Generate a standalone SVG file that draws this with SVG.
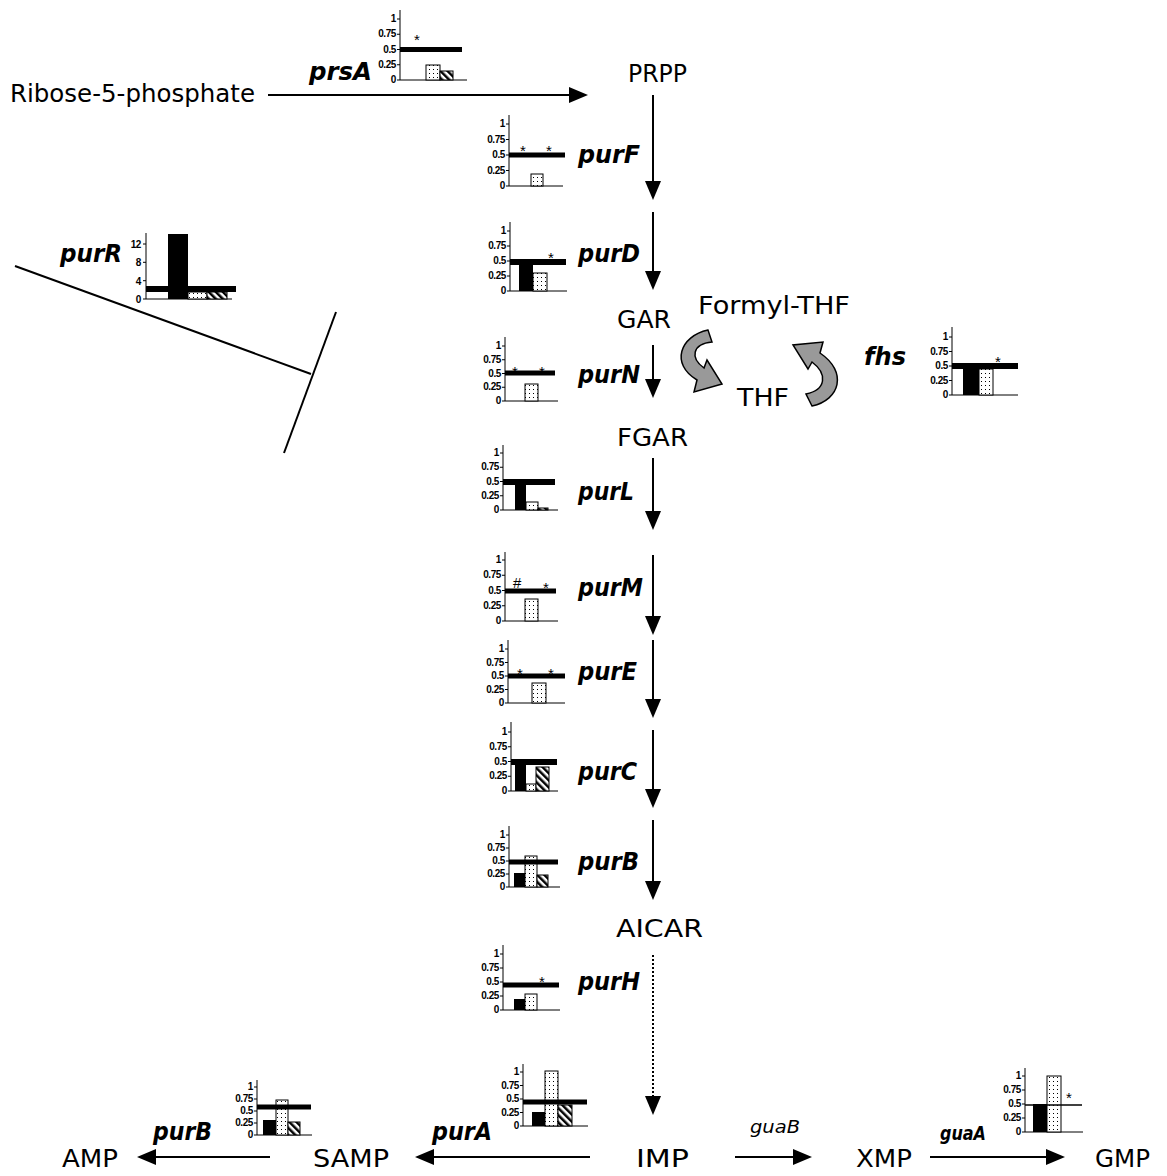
<svg xmlns="http://www.w3.org/2000/svg" width="1167" height="1176" viewBox="0 0 1167 1176">
<defs>
<style>
.lbl{font-family:"DejaVu Sans","Liberation Sans",sans-serif;font-size:25px;fill:#000}
.gene{font-family:"DejaVu Sans","Liberation Sans",sans-serif;font-size:24px;font-weight:bold;font-style:italic;fill:#000}
.tk{font-family:"Liberation Sans",Arial,sans-serif;font-size:10px;font-weight:bold;text-anchor:end;fill:#000;letter-spacing:-0.4px}
.st{font-family:"Liberation Sans",Arial,sans-serif;font-size:15px;text-anchor:middle;fill:#000}
.ax{stroke:#000;stroke-width:1;fill:none}
.bx{stroke:#000;stroke-width:1}
.con{stroke:#000;stroke-width:2;fill:none}
</style>
<pattern id="dots" width="4" height="4" patternUnits="userSpaceOnUse"><rect width="4" height="4" fill="#fff"/><rect x="1" y="1" width="1" height="1" fill="#000"/></pattern>
<pattern id="hatch" width="5" height="5" patternUnits="userSpaceOnUse" patternTransform="rotate(-45)"><rect width="5" height="5" fill="#fff"/><rect width="2.5" height="5" fill="#000"/></pattern>
<marker id="ah" markerWidth="20" markerHeight="16" refX="15" refY="8" orient="auto" markerUnits="userSpaceOnUse"><path d="M0,0 L19,8 L0,16 z" fill="#000"/></marker>
</defs>
<rect width="1167" height="1176" fill="#fff"/>

<g id="connectors">
<line class="con" x1="268" y1="95" x2="584" y2="95" marker-end="url(#ah)"/>
<line class="con" x1="653" y1="95" x2="653" y2="196" marker-end="url(#ah)"/>
<line class="con" x1="653" y1="212" x2="653" y2="286" marker-end="url(#ah)"/>
<line class="con" x1="653" y1="345" x2="653" y2="394" marker-end="url(#ah)"/>
<line class="con" x1="653" y1="458" x2="653" y2="526" marker-end="url(#ah)"/>
<line class="con" x1="653" y1="555" x2="653" y2="631" marker-end="url(#ah)"/>
<line class="con" x1="653" y1="640" x2="653" y2="714" marker-end="url(#ah)"/>
<line class="con" x1="653" y1="730" x2="653" y2="804" marker-end="url(#ah)"/>
<line class="con" x1="653" y1="820" x2="653" y2="896" marker-end="url(#ah)"/>
<line class="con" x1="653" y1="955" x2="653" y2="1111" stroke-dasharray="2,2" marker-end="url(#ah)"/>
<line class="con" x1="270" y1="1157" x2="141" y2="1157" marker-end="url(#ah)"/>
<line class="con" x1="590" y1="1157" x2="419" y2="1157" marker-end="url(#ah)"/>
<line class="con" x1="735" y1="1157" x2="808" y2="1157" marker-end="url(#ah)"/>
<line class="con" x1="930" y1="1157" x2="1061" y2="1157" marker-end="url(#ah)"/>
<line class="con" x1="15" y1="266" x2="311" y2="374"/>
<line class="con" x1="336" y1="312" x2="284" y2="453"/>
<path d="M708,330 C680,336 670,364 697,380 L694,392 L722,384 L707,360 L704,368 C690,358 692,344 712,342 Z" fill="#999" stroke="#000" stroke-width="1.5"/>
<path d="M812,406 C840,400 848,372 820,353 L823,342 L793,345 L808,369 L812,362 C828,374 826,390 806,394 Z" fill="#999" stroke="#000" stroke-width="1.5"/>
</g>

<g id="node-ribose"><text class="lbl" x="10" y="102" textLength="245" lengthAdjust="spacingAndGlyphs">Ribose-5-phosphate</text></g>
<g id="node-PRPP"><text class="lbl" x="628" y="82" textLength="59" lengthAdjust="spacingAndGlyphs">PRPP</text></g>
<g id="node-GAR"><text class="lbl" x="617" y="328" textLength="54" lengthAdjust="spacingAndGlyphs">GAR</text></g>
<g id="node-FormylTHF"><text class="lbl" x="698" y="314" textLength="152" lengthAdjust="spacingAndGlyphs">Formyl-THF</text></g>
<g id="node-THF"><text class="lbl" x="737" y="406" textLength="52" lengthAdjust="spacingAndGlyphs">THF</text></g>
<g id="node-FGAR"><text class="lbl" x="617" y="446" textLength="71" lengthAdjust="spacingAndGlyphs">FGAR</text></g>
<g id="node-AICAR"><text class="lbl" x="616" y="937" textLength="87" lengthAdjust="spacingAndGlyphs">AICAR</text></g>
<g id="node-IMP"><text class="lbl" x="636" y="1167" textLength="53" lengthAdjust="spacingAndGlyphs">IMP</text></g>
<g id="node-AMP"><text class="lbl" x="62" y="1167" textLength="56" lengthAdjust="spacingAndGlyphs">AMP</text></g>
<g id="node-SAMP"><text class="lbl" x="313" y="1167" textLength="76" lengthAdjust="spacingAndGlyphs">SAMP</text></g>
<g id="node-XMP"><text class="lbl" x="856" y="1167" textLength="56" lengthAdjust="spacingAndGlyphs">XMP</text></g>
<g id="node-GMP"><text class="lbl" x="1095" y="1167" textLength="55" lengthAdjust="spacingAndGlyphs">GMP</text></g>
<g id="label-guaB"><text x="750" y="1133" font-family="DejaVu Sans,sans-serif" font-size="18" font-style="italic" textLength="50" lengthAdjust="spacingAndGlyphs">guaB</text></g>

<!-- prsA -->
<g id="gene-prsA">
<text class="gene" x="309" y="80" textLength="63" lengthAdjust="spacingAndGlyphs">prsA</text>
<line class="ax" x1="400" y1="10" x2="400" y2="80"/><line class="ax" x1="400" y1="80" x2="467" y2="80"/>
<path class="ax" d="M397,80H400M397,64.75H400M397,49.5H400M397,34.25H400M397,19H400"/>
<text class="tk" x="396" y="83">0</text><text class="tk" x="396" y="67.75">0.25</text><text class="tk" x="396" y="52.5">0.5</text><text class="tk" x="396" y="37.25">0.75</text><text class="tk" x="396" y="22">1</text>
<rect class="bx" x="426" y="65" width="14" height="15" fill="url(#dots)"/>
<rect class="bx" x="440" y="71" width="13" height="9" fill="url(#hatch)"/>
<rect x="400" y="47" width="62" height="5" fill="#000"/>
<text class="st" x="417" y="45">*</text>
</g>

<!-- purF -->
<g id="gene-purF">
<text class="gene" x="578" y="163" textLength="62" lengthAdjust="spacingAndGlyphs">purF</text>
<line class="ax" x1="509" y1="115" x2="509" y2="186"/><line class="ax" x1="509" y1="186" x2="563" y2="186"/>
<path class="ax" d="M506,186H509M506,170.5H509M506,155H509M506,139.5H509M506,124H509"/>
<text class="tk" x="505" y="189">0</text><text class="tk" x="505" y="173.5">0.25</text><text class="tk" x="505" y="158">0.5</text><text class="tk" x="505" y="142.5">0.75</text><text class="tk" x="505" y="127">1</text>
<rect class="bx" x="531" y="174" width="12" height="12" fill="url(#dots)"/>
<rect x="509" y="152.5" width="56" height="5" fill="#000"/>
<text class="st" x="523" y="156">*</text><text class="st" x="549" y="156">*</text>
</g>

<!-- purD -->
<g id="gene-purD">
<text class="gene" x="578" y="262" textLength="62" lengthAdjust="spacingAndGlyphs">purD</text>
<line class="ax" x1="510" y1="222" x2="510" y2="291"/><line class="ax" x1="510" y1="291" x2="567" y2="291"/>
<path class="ax" d="M507,291H510M507,276H510M507,261H510M507,246H510M507,231H510"/>
<text class="tk" x="506" y="294">0</text><text class="tk" x="506" y="279">0.25</text><text class="tk" x="506" y="264">0.5</text><text class="tk" x="506" y="249">0.75</text><text class="tk" x="506" y="234">1</text>
<rect x="519" y="262" width="14" height="29" fill="#000"/>
<rect class="bx" x="533" y="273" width="14" height="18" fill="url(#dots)"/>
<rect x="510" y="259" width="56" height="6" fill="#000"/>
<text class="st" x="551" y="263">*</text>
</g>

<!-- purR -->
<g id="gene-purR">
<text class="gene" x="60" y="262" textLength="62" lengthAdjust="spacingAndGlyphs">purR</text>
<line class="ax" x1="146" y1="233" x2="146" y2="299"/><line class="ax" x1="146" y1="299" x2="232" y2="299"/>
<path class="ax" d="M143,299H146M143,280.7H146M143,262.3H146M143,244H146"/>
<g style="font-size:11px"><text class="tk" x="141" y="303">0</text><text class="tk" x="141" y="284.7">4</text><text class="tk" x="141" y="266.3">8</text><text class="tk" x="141" y="248">12</text></g>
<rect x="168" y="234" width="20" height="65" fill="#000"/>
<rect class="bx" x="188" y="292" width="19" height="7" fill="url(#dots)"/>
<rect class="bx" x="207" y="292" width="20" height="7" fill="url(#hatch)"/>
<rect x="146" y="286" width="90" height="6" fill="#000"/>
</g>

<!-- purN -->
<g id="gene-purN">
<text class="gene" x="578" y="383" textLength="62" lengthAdjust="spacingAndGlyphs">purN</text>
<line class="ax" x1="505" y1="337" x2="505" y2="401"/><line class="ax" x1="505" y1="401" x2="558" y2="401"/>
<path class="ax" d="M502,401H505M502,387.25H505M502,373.5H505M502,359.75H505M502,346H505"/>
<text class="tk" x="501" y="404">0</text><text class="tk" x="501" y="390.25">0.25</text><text class="tk" x="501" y="376.5">0.5</text><text class="tk" x="501" y="362.75">0.75</text><text class="tk" x="501" y="349">1</text>
<rect class="bx" x="525" y="384" width="13" height="17" fill="url(#dots)"/>
<rect x="505" y="370.5" width="50" height="5" fill="#000"/>
<text class="st" x="515" y="377">*</text><text class="st" x="542" y="377">*</text>
</g>

<!-- fhs -->
<g id="gene-fhs">
<text class="gene" x="864" y="365" textLength="42" lengthAdjust="spacingAndGlyphs">fhs</text>
<line class="ax" x1="952" y1="327" x2="952" y2="395"/><line class="ax" x1="952" y1="395" x2="1018" y2="395"/>
<path class="ax" d="M949,395H952M949,380.5H952M949,366H952M949,351.5H952M949,337H952"/>
<text class="tk" x="948" y="398">0</text><text class="tk" x="948" y="383.5">0.25</text><text class="tk" x="948" y="369">0.5</text><text class="tk" x="948" y="354.5">0.75</text><text class="tk" x="948" y="340">1</text>
<rect x="963" y="366" width="16" height="29" fill="#000"/>
<rect class="bx" x="979" y="369" width="14" height="26" fill="url(#dots)"/>
<rect x="952" y="363" width="66" height="6" fill="#000"/>
<text class="st" x="998" y="367">*</text>
</g>

<!-- purL -->
<g id="gene-purL">
<text class="gene" x="578" y="500" textLength="56" lengthAdjust="spacingAndGlyphs">purL</text>
<line class="ax" x1="503" y1="445" x2="503" y2="510"/><line class="ax" x1="503" y1="510" x2="558" y2="510"/>
<path class="ax" d="M500,510H503M500,495.75H503M500,481.5H503M500,467.25H503M500,453H503"/>
<text class="tk" x="499" y="513">0</text><text class="tk" x="499" y="498.75">0.25</text><text class="tk" x="499" y="484.5">0.5</text><text class="tk" x="499" y="470.25">0.75</text><text class="tk" x="499" y="456">1</text>
<rect x="515" y="482" width="11" height="28" fill="#000"/>
<rect class="bx" x="526" y="502" width="12" height="8" fill="url(#dots)"/>
<rect class="bx" x="538" y="508" width="10" height="2" fill="url(#hatch)"/>
<rect x="503" y="479" width="52" height="6" fill="#000"/>
</g>

<!-- purM -->
<g id="gene-purM">
<text class="gene" x="578" y="596" textLength="65" lengthAdjust="spacingAndGlyphs">purM</text>
<line class="ax" x1="505" y1="552" x2="505" y2="621"/><line class="ax" x1="505" y1="621" x2="558" y2="621"/>
<path class="ax" d="M502,621H505M502,605.75H505M502,590.5H505M502,575.25H505M502,560H505"/>
<text class="tk" x="501" y="624">0</text><text class="tk" x="501" y="608.75">0.25</text><text class="tk" x="501" y="593.5">0.5</text><text class="tk" x="501" y="578.25">0.75</text><text class="tk" x="501" y="563">1</text>
<rect class="bx" x="525" y="599" width="13" height="22" fill="url(#dots)"/>
<rect x="505" y="588.5" width="51" height="5" fill="#000"/>
<text class="st" x="517" y="588" font-style="italic" font-size="12">#</text><text class="st" x="546" y="593">*</text>
</g>

<!-- purE -->
<g id="gene-purE">
<text class="gene" x="578" y="680" textLength="59" lengthAdjust="spacingAndGlyphs">purE</text>
<line class="ax" x1="508" y1="640" x2="508" y2="703"/><line class="ax" x1="508" y1="703" x2="565" y2="703"/>
<path class="ax" d="M505,703H508M505,689.5H508M505,676H508M505,662.5H508M505,649H508"/>
<text class="tk" x="504" y="706">0</text><text class="tk" x="504" y="692.5">0.25</text><text class="tk" x="504" y="679">0.5</text><text class="tk" x="504" y="665.5">0.75</text><text class="tk" x="504" y="652">1</text>
<rect class="bx" x="532" y="683" width="14" height="20" fill="url(#dots)"/>
<rect x="508" y="673.5" width="57" height="5" fill="#000"/>
<text class="st" x="520" y="679">*</text><text class="st" x="551" y="679">*</text>
</g>

<!-- purC -->
<g id="gene-purC">
<text class="gene" x="578" y="780" textLength="59" lengthAdjust="spacingAndGlyphs">purC</text>
<line class="ax" x1="511" y1="722" x2="511" y2="791"/><line class="ax" x1="511" y1="791" x2="558" y2="791"/>
<path class="ax" d="M508,791H511M508,776.25H511M508,761.5H511M508,746.75H511M508,732H511"/>
<text class="tk" x="507" y="794">0</text><text class="tk" x="507" y="779.25">0.25</text><text class="tk" x="507" y="764.5">0.5</text><text class="tk" x="507" y="749.75">0.75</text><text class="tk" x="507" y="735">1</text>
<rect x="515" y="762" width="11" height="29" fill="#000"/>
<rect class="bx" x="526" y="784" width="10" height="7" fill="url(#dots)"/>
<rect class="bx" x="536" y="767" width="13" height="24" fill="url(#hatch)"/>
<rect x="511" y="759" width="46" height="6" fill="#000"/>
</g>

<!-- purB -->
<g id="gene-purB">
<text class="gene" x="578" y="870" textLength="61" lengthAdjust="spacingAndGlyphs">purB</text>
<line class="ax" x1="509" y1="826" x2="509" y2="887"/><line class="ax" x1="509" y1="887" x2="560" y2="887"/>
<path class="ax" d="M506,887H509M506,874H509M506,861H509M506,848H509M506,835H509"/>
<text class="tk" x="505" y="890">0</text><text class="tk" x="505" y="877">0.25</text><text class="tk" x="505" y="864">0.5</text><text class="tk" x="505" y="851">0.75</text><text class="tk" x="505" y="838">1</text>
<rect x="514" y="873" width="11" height="14" fill="#000"/>
<rect class="bx" x="525" y="856" width="12" height="31" fill="url(#dots)"/>
<rect class="bx" x="537" y="875" width="11" height="12" fill="url(#hatch)"/>
<rect x="509" y="859.5" width="49" height="5" fill="#000"/>
</g>

<!-- purH -->
<g id="gene-purH">
<text class="gene" x="578" y="990" textLength="62" lengthAdjust="spacingAndGlyphs">purH</text>
<line class="ax" x1="503" y1="945" x2="503" y2="1010"/><line class="ax" x1="503" y1="1010" x2="560" y2="1010"/>
<path class="ax" d="M500,1010H503M500,996H503M500,982H503M500,968H503M500,954H503"/>
<text class="tk" x="499" y="1013">0</text><text class="tk" x="499" y="999">0.25</text><text class="tk" x="499" y="985">0.5</text><text class="tk" x="499" y="971">0.75</text><text class="tk" x="499" y="957">1</text>
<rect x="514" y="999" width="11" height="11" fill="#000"/>
<rect class="bx" x="525" y="994" width="12" height="16" fill="url(#dots)"/>
<rect x="503" y="982.5" width="56" height="5" fill="#000"/>
<text class="st" x="542" y="987">*</text>
</g>

<!-- purA -->
<g id="gene-purA">
<text class="gene" x="432" y="1140" textLength="60" lengthAdjust="spacingAndGlyphs">purA</text>
<line class="ax" x1="523" y1="1064" x2="523" y2="1126"/><line class="ax" x1="523" y1="1126" x2="588" y2="1126"/>
<path class="ax" d="M520,1126H523M520,1112.5H523M520,1099H523M520,1085.5H523M520,1072H523"/>
<text class="tk" x="519" y="1129">0</text><text class="tk" x="519" y="1115.5">0.25</text><text class="tk" x="519" y="1102">0.5</text><text class="tk" x="519" y="1088.5">0.75</text><text class="tk" x="519" y="1075">1</text>
<rect x="532" y="1112" width="13" height="14" fill="#000"/>
<rect class="bx" x="545" y="1071" width="13" height="55" fill="url(#dots)"/>
<rect class="bx" x="558" y="1105" width="14" height="21" fill="url(#hatch)"/>
<rect x="523" y="1099.5" width="64" height="5" fill="#000"/>
</g>

<!-- purB bottom -->
<g id="gene-purB2">
<text class="gene" x="153" y="1140" textLength="59" lengthAdjust="spacingAndGlyphs">purB</text>
<line class="ax" x1="257" y1="1080" x2="257" y2="1135"/><line class="ax" x1="257" y1="1135" x2="312" y2="1135"/>
<path class="ax" d="M254,1135H257M254,1123H257M254,1111H257M254,1099H257M254,1087H257"/>
<text class="tk" x="253" y="1138">0</text><text class="tk" x="253" y="1126">0.25</text><text class="tk" x="253" y="1114">0.5</text><text class="tk" x="253" y="1102">0.75</text><text class="tk" x="253" y="1090">1</text>
<rect x="263" y="1120" width="13" height="15" fill="#000"/>
<rect class="bx" x="276" y="1100" width="12" height="35" fill="url(#dots)"/>
<rect class="bx" x="288" y="1122" width="12" height="13" fill="url(#hatch)"/>
<rect x="257" y="1104.5" width="54" height="5" fill="#000"/>
</g>

<!-- guaA -->
<g id="gene-guaA">
<text class="gene" x="940" y="1140" style="font-size:19px" textLength="46" lengthAdjust="spacingAndGlyphs">guaA</text>
<line class="ax" x1="1025" y1="1068" x2="1025" y2="1132"/><line class="ax" x1="1025" y1="1132" x2="1083" y2="1132"/>
<path class="ax" d="M1022,1132H1025M1022,1118H1025M1022,1104H1025M1022,1090H1025M1022,1076H1025"/>
<text class="tk" x="1021" y="1135">0</text><text class="tk" x="1021" y="1120.5">0.25</text><text class="tk" x="1021" y="1106.5">0.5</text><text class="tk" x="1021" y="1092.5">0.75</text><text class="tk" x="1021" y="1078.5">1</text>
<rect x="1033" y="1104" width="14" height="28" fill="#000"/>
<rect class="bx" x="1047" y="1076" width="14" height="56" fill="url(#dots)"/>
<line x1="1025" y1="1105" x2="1082" y2="1105" stroke="#000" stroke-width="1.5"/>
<text class="st" x="1069" y="1103">*</text>
</g>
</svg>
